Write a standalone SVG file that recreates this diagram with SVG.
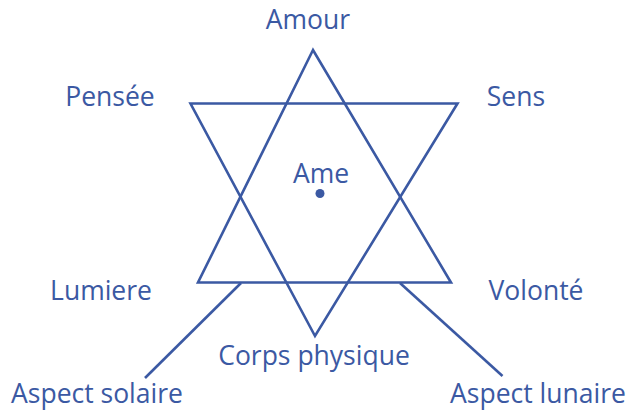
<svg xmlns="http://www.w3.org/2000/svg" width="632" height="412" viewBox="0 0 632 412">
<style>
.l{fill:none;stroke:#3b59a3;stroke-width:2.6;stroke-linejoin:miter}
text{font-family:"Open Sans","Noto Sans",sans-serif;font-size:26.5px;fill:#3b59a3;text-anchor:middle}
</style>
<rect width="632" height="412" fill="#fff"/>
<g id="connectors">
<polygon class="l" points="313,50 198,282.5 451,282.5"/>
<polygon class="l" points="190.5,103.5 457.5,103.5 315,336"/>
<line class="l" x1="241" y1="283" x2="145" y2="378"/>
<line class="l" x1="400" y1="283" x2="502.5" y2="376"/>
</g>
<g id="amour"><text x="308" y="29">Amour</text></g>
<g id="pensee"><text x="110" y="106">Pensée</text></g>
<g id="sens"><text x="516" y="106">Sens</text></g>
<g id="ame"><text x="321" y="183">Ame</text><circle cx="320" cy="193.5" r="4.5" fill="#3b59a3"/></g>
<g id="lumiere"><text x="101" y="300">Lumiere</text></g>
<g id="volonte"><text x="536" y="300">Volonté</text></g>
<g id="corps"><text x="314" y="365">Corps physique</text></g>
<g id="solaire"><text x="97" y="403">Aspect solaire</text></g>
<g id="lunaire"><text x="538" y="403">Aspect lunaire</text></g>
</svg>
